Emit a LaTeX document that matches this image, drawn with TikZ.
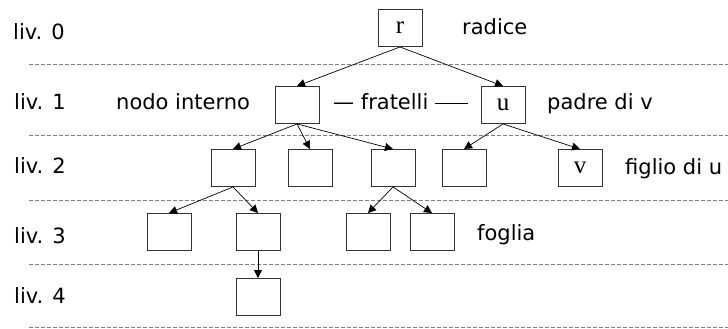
\documentclass[tikz,border=0pt]{standalone}
\usepackage{fontspec}
\setmainfont{DejaVu Sans}
\newfontfamily\boxfont{Liberation Serif}
\usetikzlibrary{arrows.meta}
\begin{document}
\begin{tikzpicture}[x=1pt,y=-1pt,
  tnode/.style={draw=black!80,line width=0.9pt,minimum width=44pt,minimum height=37pt,inner sep=0pt,font=\boxfont\fontsize{25}{25}\selectfont},
  lab/.style={anchor=base west,inner sep=0pt,font=\fontsize{21}{25}\selectfont},
  edge/.style={line width=0.7pt,-{Triangle[length=8pt,width=8pt]}},
  lvl/.style={gray,line width=1pt,dash pattern=on 4pt off 2pt}]
\useasboundingbox (0,0) rectangle (728,329);
% level separators
\foreach \y in {65,135,200,264,327} \draw[lvl] (29,\y) -- (728,\y);
% level labels
\node[lab] (l0) at (13,40) {liv. 0};
\node[lab] (l1) at (14,110) {liv. 1};
\node[lab] (l2) at (14,173) {liv. 2};
\node[lab] (l3) at (14,243) {liv. 3};
\node[lab] (l4) at (14,303) {liv. 4};
% tree nodes
\node[tnode] (r) at (400,28) {r};
\node[tnode] (a) at (297,105) {};
\node[tnode] (u) at (503,105) {u};
\node[tnode] (a1) at (233,168) {};
\node[tnode] (a2) at (310,168) {};
\node[tnode] (a3) at (393,168) {};
\node[tnode] (u1) at (464,168) {};
\node[tnode] (v) at (580,168) {v};
\node[tnode] (b1) at (169,232) {};
\node[tnode] (b2) at (258,232) {};
\node[tnode] (c1) at (368,232) {};
\node[tnode] (c2) at (432,232) {};
\node[tnode] (d1) at (258,297) {};
% edges
\draw[edge] (r.south) -- (a.north);
\draw[edge] (r.south) -- (u.north);
\draw[edge] (a.south) -- (a1.north);
\draw[edge] (a.south) -- (a2.north);
\draw[edge] (a.south) -- (a3.north);
\draw[edge] (u.south) -- (u1.north);
\draw[edge] (u.south) -- (v.north);
\draw[edge] (a1.south) -- (b1.north);
\draw[edge] (a1.south) -- (b2.north);
\draw[edge] (a3.south) -- (c1.north);
\draw[edge] (a3.south) -- (c2.north);
\draw[edge] (b2.south) -- (d1.north);
% annotations
\node[lab] (trad) at (462,35) {radice};
\node[lab] (tint) at (116,110) {nodo interno};
\node[lab] (tfra) at (333,110) {— fratelli \rule[0.3em]{33pt}{0.8pt}};
\node[lab] (tpad) at (547,110) {padre di v};
\node[lab] (tfig) at (625,174) {figlio di u};
\node[lab] (tfog) at (477,240) {foglia};
\end{tikzpicture}
\end{document}
